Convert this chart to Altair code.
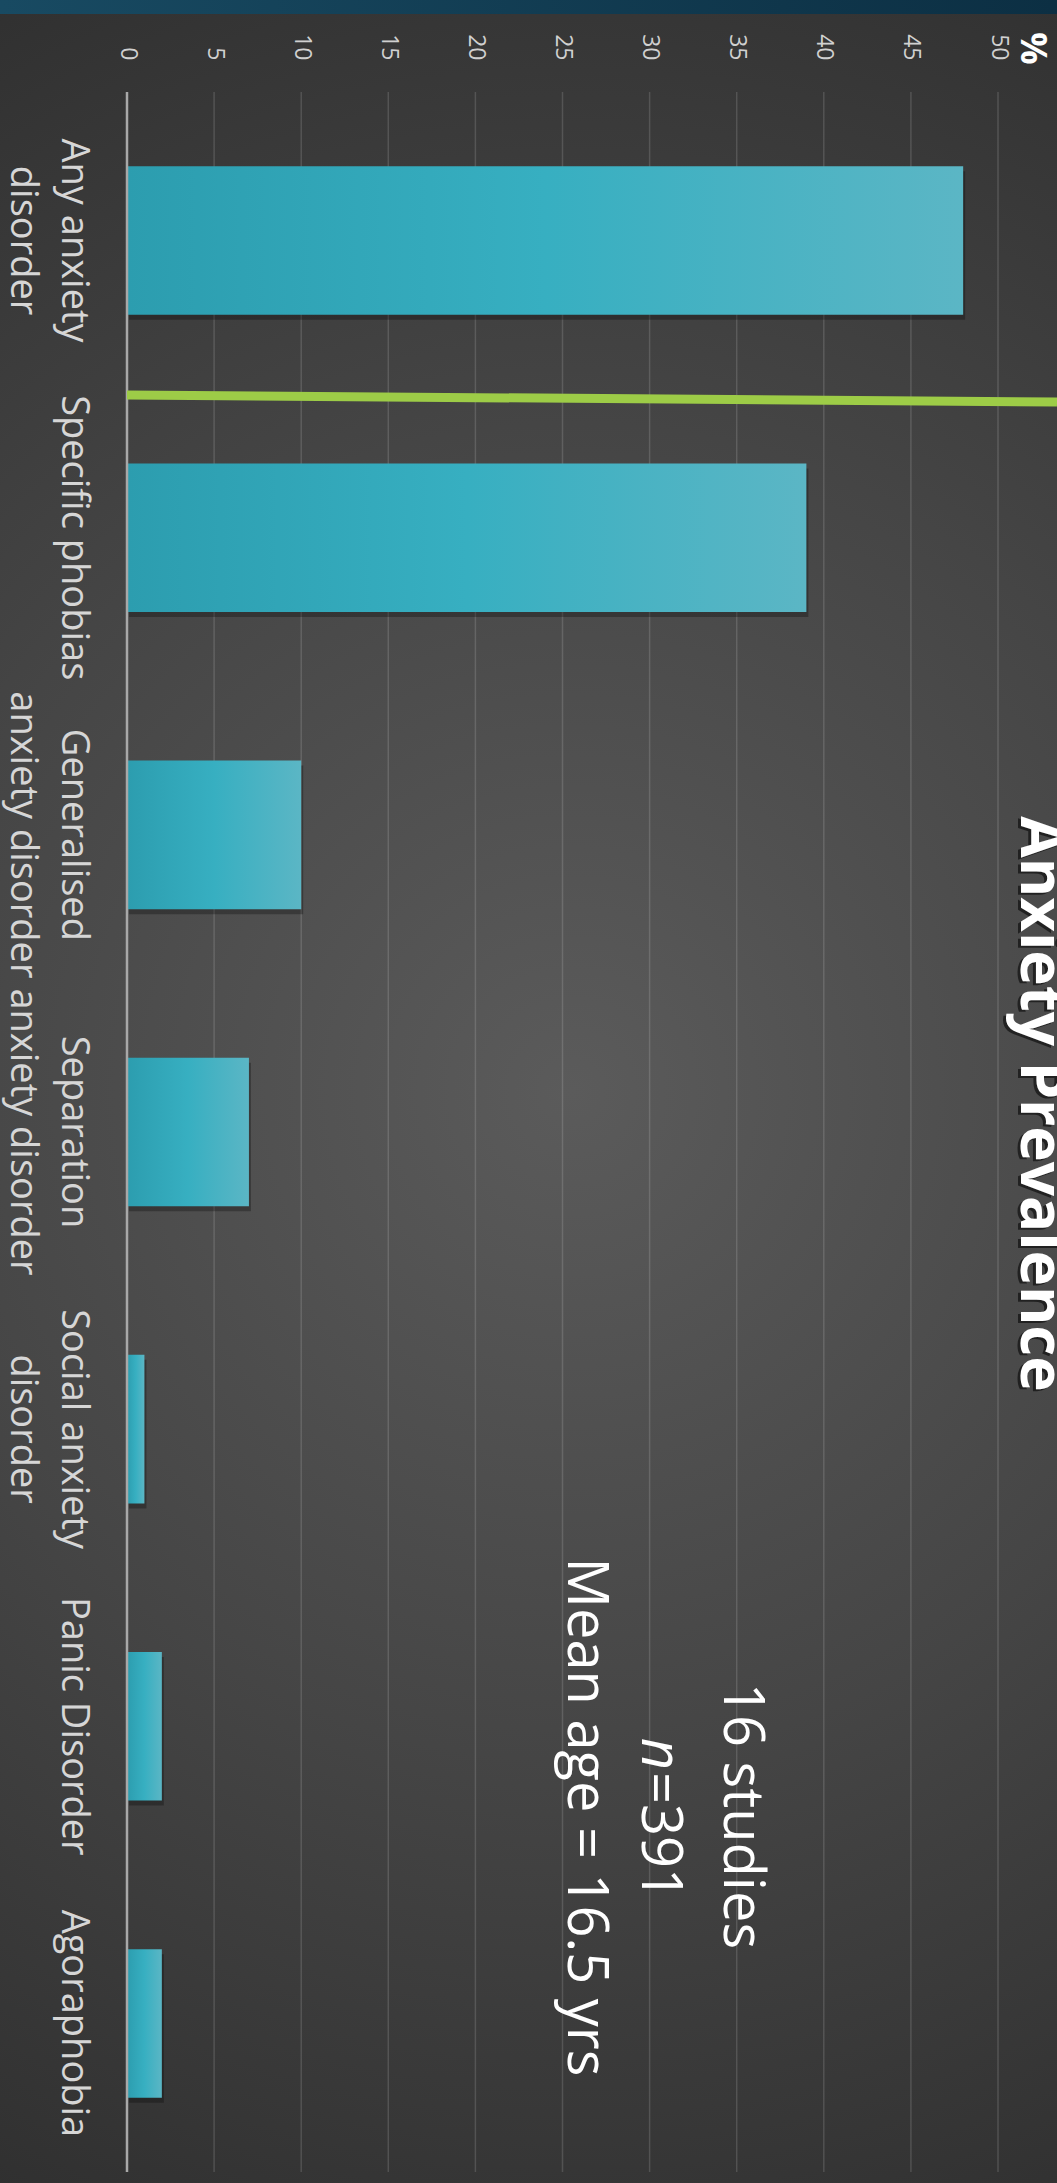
import altair as alt
import pandas as pd

categories = [
    "Any anxiety\ndisorder",
    "Specific phobias",
    "Generalised\nanxiety disorder",
    "Separation\nanxiety disorder",
    "Social anxiety\ndisorder",
    "Panic Disorder",
    "Agoraphobia",
]
prevalence = [48.0, 39.0, 10.0, 7.0, 1.0, 2.0, 2.0]
x_ticks = [0, 5, 10, 15, 20, 25, 30, 35, 40, 45, 50]
title_text = "Anxiety Prevalence"
note_lines = ["16 studies", "n", "=391", "Mean age = 16.5 yrs"]

df = pd.DataFrame({"cat": categories, "val": prevalence})
ticks_df = pd.DataFrame({"val": x_ticks[1:]})
one = pd.DataFrame({"k": [0]})

W, H = 871, 2080
PL, PT = 127, 92
FONT = "Open Sans"

bar_grad = alt.LinearGradient(
    gradient="linear",
    stops=[alt.GradientStop(color="#2c9daf", offset=0),
           alt.GradientStop(color="#37afc1", offset=0.5),
           alt.GradientStop(color="#5bb6c5", offset=1)],
    x1=0, x2=1, y1=0, y2=0,
)
bg_grad = alt.RadialGradient(
    gradient="radial",
    stops=[alt.GradientStop(color="#5b5b5b", offset=0),
           alt.GradientStop(color="#454545", offset=0.45),
           alt.GradientStop(color="#272727", offset=1)],
    x1=0.52, y1=0.5, r1=0, x2=0.52, y2=0.5, r2=0.68,
)
top_grad = alt.LinearGradient(
    gradient="linear",
    stops=[alt.GradientStop(color="#184a62", offset=0),
           alt.GradientStop(color="#0c2f43", offset=1)],
    x1=0, x2=1, y1=0, y2=0,
)

y_enc = alt.Y(
    "cat:N", sort=categories,
    scale=alt.Scale(paddingInner=0.5, paddingOuter=0.25),
    axis=alt.Axis(
        title=None, domain=False, ticks=False, grid=False, zindex=1,
        labelExpr="split(datum.label, '\\n')",
        labelAngle=90, labelAlign="center", labelBaseline="top",
        labelPadding=36, labelFont=FONT, labelFontSize=38,
        labelColor="#d6d6d6", labelLineHeight=51, labelLimit=0,
    ),
)
x_enc = alt.X(
    "val:Q",
    scale=alt.Scale(domain=[0, 50], nice=False),
    axis=alt.Axis(
        orient="top", values=x_ticks, domain=False, ticks=False,
        grid=False, zindex=1,
        labelAngle=90, labelAlign="right", labelBaseline="middle",
        labelPadding=32, labelFont=FONT, labelFontSize=23,
        labelColor="#d0d0d0",
        title="%", titleAngle=90, titleFont=FONT, titleFontWeight="bold",
        titleFontSize=36, titleColor="#ffffff", titleX=904, titleY=-44,
        titleAlign="center", titleBaseline="middle",
    ),
)

background = alt.Chart(one).mark_rect(fill=bg_grad, clip=False).encode(
    x=alt.value(-PL), x2=alt.value(1057 - PL),
    y=alt.value(-PT), y2=alt.value(2183 - PT),
)
top_strip = alt.Chart(one).mark_rect(fill=top_grad, clip=False).encode(
    x=alt.value(-PL), x2=alt.value(1057 - PL),
    y=alt.value(-PT), y2=alt.value(14 - PT),
)

grid = alt.Chart(ticks_df).mark_rule(color="#ffffff", opacity=0.14, strokeWidth=1.5).encode(
    x=x_enc
)

shadow = alt.Chart(df).mark_bar(color="#000000", opacity=0.28, yOffset=5, xOffset=2).encode(
    x=x_enc, y=y_enc
)
bars = alt.Chart(df).mark_bar(color=bar_grad).encode(x=x_enc, y=y_enc)

zero_line = alt.Chart(one).mark_rule(color="#a8a8a8", strokeWidth=2.5).encode(
    x=alt.datum(0)
)

green = alt.Chart(one).mark_rule(color="#9dcc47", strokeWidth=9, clip=False).encode(
    x=alt.value(0), x2=alt.value(1057 - PL),
    y=alt.value(395 - PT), y2=alt.value(402 - PT),
)

title_shadow = alt.Chart(one).mark_text(
    text=title_text, angle=90, align="center", baseline="alphabetic",
    font=FONT, fontWeight="bold", fontSize=60, color="#000000", opacity=0.55,
).encode(x=alt.value(1018 - PL), y=alt.value(1106 - PT))
title = alt.Chart(one).mark_text(
    text=title_text, angle=90, align="center", baseline="alphabetic",
    font=FONT, fontWeight="bold", fontSize=60, color="#ffffff",
).encode(x=alt.value(1021 - PL), y=alt.value(1104 - PT))

note1 = alt.Chart(one).mark_text(
    text=note_lines[0], angle=90, align="center", baseline="middle",
    font=FONT, fontSize=56, color="#ffffff",
).encode(x=alt.value(741 - PL), y=alt.value(1816 - PT))
note2a = alt.Chart(one).mark_text(
    text=note_lines[1], angle=90, align="right", baseline="middle",
    font=FONT, fontSize=56, fontStyle="italic", color="#ffffff",
).encode(x=alt.value(659 - PL), y=alt.value(1770 - PT))
note2b = alt.Chart(one).mark_text(
    text=note_lines[2], angle=90, align="left", baseline="middle",
    font=FONT, fontSize=56, color="#ffffff",
).encode(x=alt.value(659 - PL), y=alt.value(1772 - PT))
note3 = alt.Chart(one).mark_text(
    text=note_lines[3], angle=90, align="center", baseline="middle",
    font=FONT, fontSize=56, color="#ffffff",
).encode(x=alt.value(585 - PL), y=alt.value(1817 - PT))

chart = alt.layer(
    background, top_strip, grid, shadow, bars, zero_line, green,
    title_shadow, title, note1, note2a, note2b, note3,
).properties(
    width=W, height=H,
    padding={"left": PL, "top": PT, "right": 1057 - PL - W, "bottom": 2183 - PT - H},
    autosize=alt.AutoSizeParams(type="none"),
).configure(
    background="#2a2a2a",
).configure_view(stroke=None)

chart.save("out.html", embed_options={"renderer": "svg", "actions": False})
